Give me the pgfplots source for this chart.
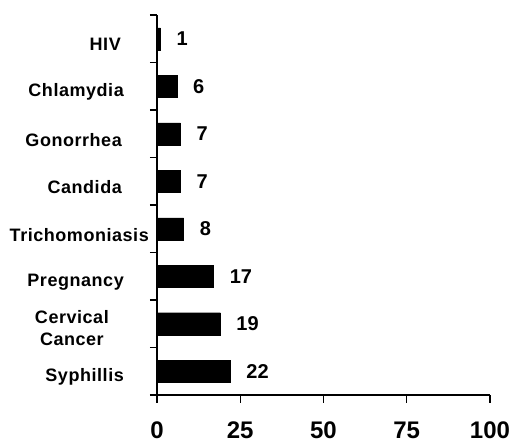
\documentclass[border=0pt]{standalone}
\usepackage{fontspec}
\setmainfont{Liberation Sans}
\usepackage{pgfplots}
\pgfplotsset{compat=1.18}

\newcommand{\gap}[1]{\rule{#1}{0pt}}

\begin{document}
\begin{tikzpicture}[x=1pt,y=1pt]
\useasboundingbox (-157,-49) rectangle (357,395);
\begin{axis}[
  at={(0,0)}, anchor=south west,
  scale only axis,
  width=333pt, height=380pt,
  xbar,
  bar width=22pt,
  xmin=0, xmax=100,
  ymin=-0.5, ymax=7.5,
  enlargelimits=false,
  axis x line*=bottom,
  axis y line*=left,
  axis line style={line width=1.4pt, black},
  tick align=outside,
  xtick={0,25,50,75,100},
  /pgf/number format/assume math mode=true,
  xticklabel style={font=\fontsize{24pt}{28pt}\selectfont\bfseries, yshift=-15pt},
  major x tick style={line width=1.4pt, black},
  major tick length=8pt,
  ytick={0,...,7},
  yticklabels={
    Syphillis\gap{25pt},
    {\begin{tabular}{@{}c@{}}Cervical\\Cancer\end{tabular}\gap{40pt}},
    Pregnancy\gap{25pt},
    Trichomoniasis,
    Candida\gap{27pt},
    Gonorrhea\gap{27pt},
    Chlamydia\gap{25pt},
    HIV\gap{28pt}},
  yticklabel style={font=\fontsize{18pt}{22pt}\selectfont\bfseries\addfontfeature{LetterSpace=3}, anchor=east, yshift=-6pt, inner sep=0pt, xshift=0pt},
  major y tick style={draw=none},
  minor ytick={-0.5,0.5,...,7.5},
  minor y tick style={line width=1.4pt, black},
  minor tick length=7pt,
  nodes near coords,
  nodes near coords style={font=\fontsize{20pt}{24pt}\selectfont\bfseries, anchor=west, xshift=16pt, inner sep=0pt},
]
\addplot[fill=black, draw=black] coordinates {
  (22,0) (19,1) (17,2) (8,3) (7,4) (7,5) (6,6) (1,7)
};
\end{axis}
\end{tikzpicture}
\end{document}
